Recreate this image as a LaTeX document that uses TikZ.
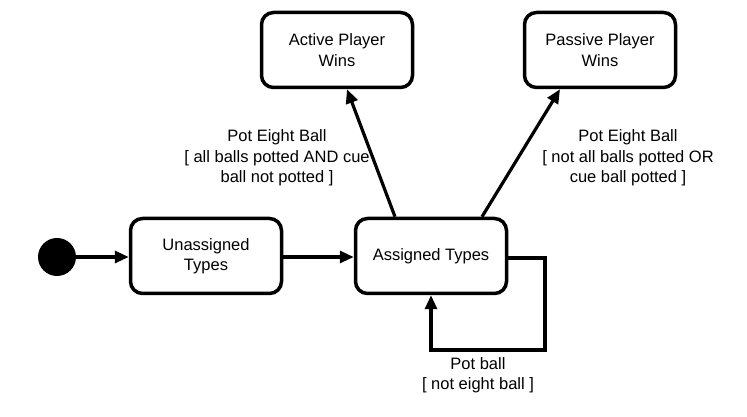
\documentclass[tikz,border=0pt]{standalone}
\usepackage{fontspec}
\setmainfont{Liberation Sans}
\usetikzlibrary{arrows.meta,shapes}

\begin{document}
\begin{tikzpicture}[x=1pt, y=1pt,
    every node/.style={font=\fontsize{16.5}{20.5}\selectfont},
    state/.style={draw=black, line width=3.5pt, rounded corners=12pt, fill=white,
        minimum width=151pt, minimum height=75pt, align=center, inner sep=0pt},
    trans/.style={line width=3.2pt, -{Triangle[length=14pt,width=12pt]}},
    guard/.style={align=center, inner sep=0pt}]
        \useasboundingbox (0,0) rectangle (747,417);
        % Draw the states
        \node[circle, fill=black, minimum size=38pt, inner sep=0pt] (init) at (57,160) {};
        \node[state] (unassigned) at (206,161) {Unassigned\\Types};
        \node[state] (assigned) at (431,161) {Assigned Types};
        \node[state] (active) at (337,367) {Active Player\\Wins};
        \node[state] (passive) at (600,367) {Passive Player\\Wins};
        % Draw the transitions
        \draw[trans] (init.east) -- (init -| unassigned.west);
        \draw[trans] (init -| unassigned.east) -- (init -| assigned.west);
        \draw[trans] ([xshift=-36pt]assigned.north) -- ([xshift=10pt]active.south);
        \draw[trans] ([xshift=51pt]assigned.north) -- ([xshift=-40pt]passive.south);
        \coordinate (loopcorner) at (545,67);
        \draw[trans, line join=miter] ([yshift=-2pt]assigned.east) -| (loopcorner) -| (assigned.south);
        % Draw the guards
        \node[guard] (activeguard) at (277,259) {Pot Eight Ball\\{}[ all balls potted AND cue\\ball not potted ]};
        \node[guard] (passiveguard) at (628,259) {Pot Eight Ball\\{}[ not all balls potted OR\\cue ball potted ]};
        \node[guard] (loopguard) at (478,42) {Pot ball\\{}[ not eight ball ]};
    \end{tikzpicture}
\end{document}
